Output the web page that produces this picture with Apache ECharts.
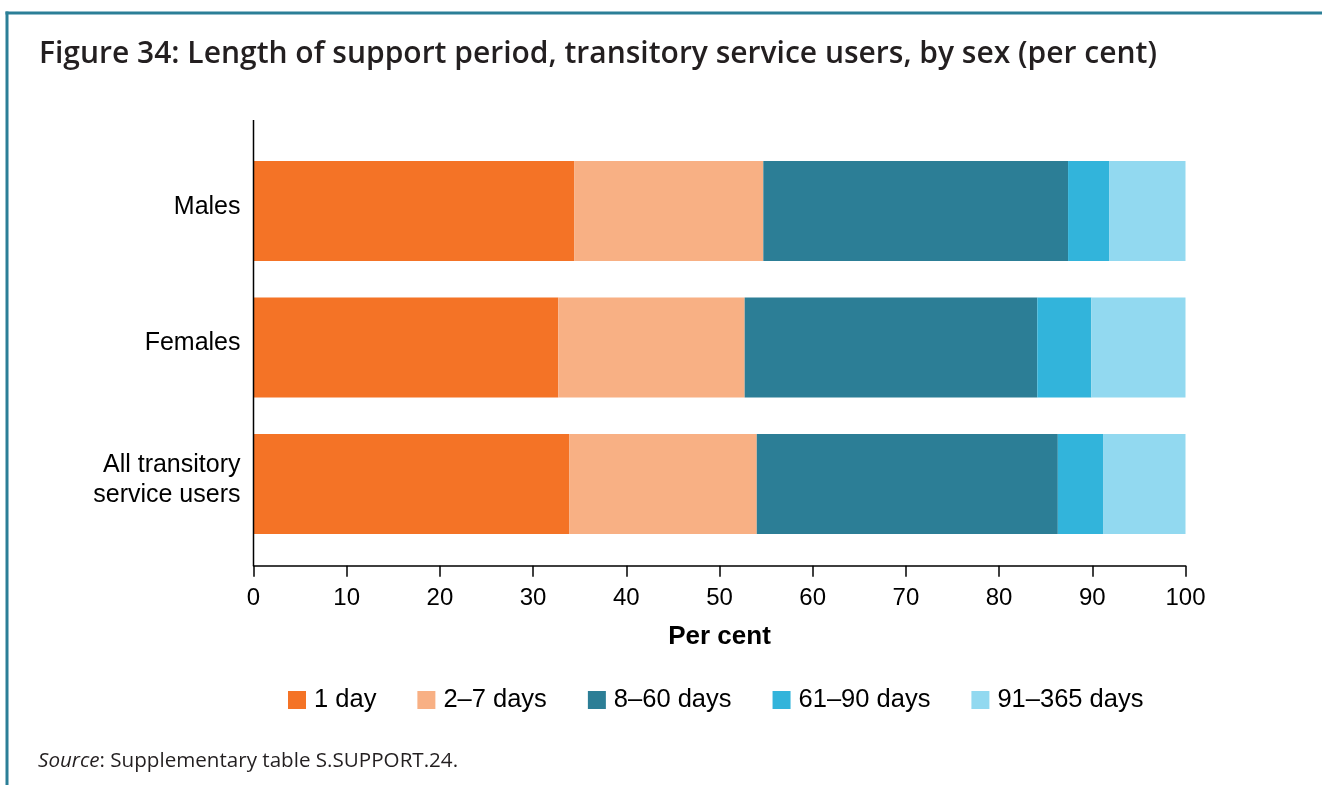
<!DOCTYPE html>
<html>
<head>
<meta charset="utf-8">
<style>
  html, body { margin: 0; padding: 0; background: #fff; }
  #chart { width: 1322px; height: 785px; }
</style>
<script src="https://cdn.jsdelivr.net/npm/echarts@6/dist/echarts.min.js"></script>
</head>
<body>
<div id="chart"></div>
<script>
// Length of support period for transitory service users, by sex (per cent)
const categories = ['Males', 'Females', 'All transitory\nservice users'];
const seriesNames = ['1 day', '2–7 days', '8–60 days', '61–90 days', '91–365 days'];
const oneDay = [34.4, 32.7, 33.9];
const twoToSevenDays = [20.3, 20.0, 20.1];
const eightToSixtyDays = [32.7, 31.4, 32.3];
const sixtyOneToNinetyDays = [4.4, 5.8, 4.9];
const ninetyOneTo365Days = [8.2, 10.1, 8.8];
const xTicks = [0, 10, 20, 30, 40, 50, 60, 70, 80, 90, 100];

const colours = ['#F47326', '#F8B084', '#2C7E96', '#32B4DB', '#92D9F0'];
const values = [oneDay, twoToSevenDays, eightToSixtyDays, sixtyOneToNinetyDays, ninetyOneTo365Days];

const chart = echarts.init(document.getElementById('chart'), null, { renderer: 'canvas' });

const labelFont = 'Liberation Sans, Arial, sans-serif';
const frameColour = '#2B7F97';

chart.setOption({
  animation: false,
  backgroundColor: '#ffffff',
  title: [
    {
      text: 'Figure 34: Length of support period, transitory service users, by sex (per cent)',
      left: 34,
      top: 34,
      textStyle: {
        fontFamily: 'Open Sans',
        fontWeight: 600,
        fontSize: 30,
        color: '#231F20'
      }
    },
    {
      text: '{i|Source}: Supplementary table S.SUPPORT.24.',
      left: 33,
      top: 746,
      textStyle: {
        fontFamily: 'Open Sans',
        fontWeight: 'normal',
        fontSize: 20.6,
        color: '#231F20',
        rich: {
          i: { fontFamily: 'Open Sans', fontStyle: 'italic', fontWeight: 'normal', fontSize: 20.6, color: '#231F20' }
        }
      }
    }
  ],
  legend: {
    data: seriesNames,
    left: 283,
    top: 682,
    itemWidth: 18,
    itemHeight: 18,
    itemGap: 41,
    icon: 'rect',
    textStyle: { fontFamily: labelFont, fontSize: 25.5, color: '#000', padding: [0, 0, 0, 3] }
  },
  grid: {
    left: 253.5,
    right: 136.5,
    top: 142.75,
    height: 409.5,
    containLabel: false
  },
  xAxis: {
    type: 'value',
    min: xTicks[0],
    max: xTicks[xTicks.length - 1],
    interval: xTicks[1] - xTicks[0],
    offset: 13.5,
    name: 'Per cent',
    nameLocation: 'middle',
    nameGap: 58,
    nameTextStyle: { fontFamily: labelFont, fontSize: 26, fontWeight: 'bold', color: '#000' },
    axisLine: { show: true, lineStyle: { color: '#000', width: 1.5 } },
    axisTick: { show: true, length: 11, lineStyle: { color: '#000', width: 1.5 } },
    axisLabel: { fontFamily: labelFont, fontSize: 24, color: '#000', margin: 21 },
    splitLine: { show: false }
  },
  yAxis: {
    type: 'category',
    inverse: true,
    data: categories,
    axisLine: { show: false },
    axisTick: { show: false },
    axisLabel: {
      margin: 13,
      align: 'right',
      // each category line as a rich token, followed by a short spacer line
      // that lifts the label slightly above the bar centre
      formatter: value => value.split('\n').map(line => '{a|' + line + '}').join('\n') + '\n{s| }',
      rich: {
        a: { fontFamily: labelFont, fontSize: 25, color: '#000', lineHeight: 30, align: 'right' },
        s: { fontSize: 2, lineHeight: 8 }
      }
    }
  },
  graphic: [
    // vertical axis line spanning the full plot frame
    { type: 'line', shape: { x1: 253.5, y1: 120, x2: 253.5, y2: 566 }, style: { stroke: '#000', lineWidth: 1.5 }, z: 10 },
    // figure frame: top and left rules
    { type: 'line', shape: { x1: 5.5, y1: 13, x2: 1322, y2: 13 }, style: { stroke: frameColour, lineWidth: 3 } },
    { type: 'line', shape: { x1: 7, y1: 11.5, x2: 7, y2: 785 }, style: { stroke: frameColour, lineWidth: 3 } }
  ],
  series: seriesNames.map((name, i) => ({
    name: name,
    type: 'bar',
    stack: 'total',
    barWidth: 100,
    data: values[i],
    itemStyle: { color: colours[i] },
    emphasis: { disabled: true }
  }))
});
</script>
</body>
</html>
